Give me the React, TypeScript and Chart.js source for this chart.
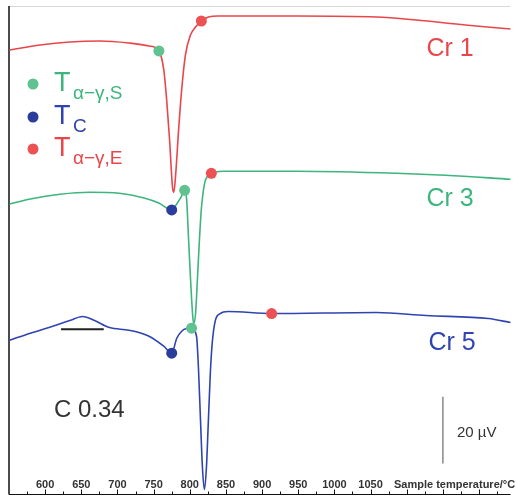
import React, { useEffect, useRef } from "react";
import { Chart, registerables } from "chart.js";

Chart.register(...registerables);

const FONT = "'Liberation Sans', Arial, sans-serif";

// Temperatures (°C) and DTA signal (µV, with vertical offsets per curve)
const cr1T = [550.8, 593, 634, 675, 716, 744, 757.3, 764, 768, 772, 776.4, 778, 780.5, 784.6, 788.8, 794, 801, 808, 816, 825.7, 839, 949, 1058, 1113, 1181, 1244];
const cr1S = [133.4, 134.9, 135.8, 136.1, 135.5, 134.6, 133.1, 127.5, 118.5, 106.6, 91.6, 90.7, 96.1, 109.6, 121.5, 131.9, 137.9, 140.3, 142.1, 143.3, 143.6, 143.6, 143.3, 142.4, 140.9, 139.7];

const cr3T = [550.8, 579.5, 620.5, 661.5, 702.6, 736.8, 757, 775, 782, 788.8, 792.9, 795.6, 798.3, 801, 803.8, 805.2, 808, 810.6, 813.4, 816, 820.2, 824.3, 829.8, 846, 948.8, 1085.6, 1154, 1244];
const cr3S = [87.2, 88.7, 90.1, 90.7, 90.4, 89.0, 87.5, 85.4, 87.2, 89.6, 91.3, 88.7, 76.7, 64.8, 54.3, 51.3, 54.3, 64.8, 76.7, 85.7, 93.1, 95.5, 96.4, 97.0, 97.0, 96.4, 95.8, 94.6];

const cr5T = [550.8, 579.5, 613.7, 634, 652, 668.4, 689, 716, 743.6, 764, 775, 782, 788.8, 795.6, 802.4, 809.3, 812, 814.7, 817.5, 820.2, 823, 825.7, 828.4, 831, 835.3, 842, 853, 913.2, 1058, 1126.6, 1212.8, 1244];
const cr5S = [46.3, 48.4, 50.7, 52.2, 53.4, 52.2, 50.1, 49.3, 47.5, 44.5, 42.4, 46.9, 49.0, 49.8, 49.9, 47.5, 37.9, 23.0, 8.1, 1.5, 8.1, 22.1, 36.4, 45.4, 52.2, 54.3, 54.9, 54.3, 54.6, 53.7, 52.8, 51.6];

// Characteristic points
const startT = [757.3, 792.9, 802.4];
const startS = [133.1, 91.3, 49.9];
const curieT = [775, 775];
const curieS = [85.4, 42.4];
const endT = [816, 829.8, 913.2];
const endS = [142.1, 96.4, 54.3];

// Baseline marker under the Cr 5 bump, and the 20 µV scale bar
const barT = [622, 681];
const barS = [49.6, 49.6];
const scaleBarT = [1150, 1150];
const scaleBarS = [9.3, 29.3];

const tickValues = [600, 650, 700, 750, 800, 850, 900, 950, 1000, 1050];
const curveLabels = ["Cr 1", "Cr 3", "Cr 5"];

const RED = "#e8464a";
const GREEN = "#3db57f";
const BLUE = "#2f44b0";
const M_RED = "#ec5254";
const M_GREEN = "#5fc28f";
const M_BLUE = "#2a3d9c";

const zip = (xs: number[], ys: number[]) => xs.map((x, i) => ({ x, y: ys[i] }));

const decor = {
  id: "decor",
  beforeDatasetsDraw(chart: any) {
    const { ctx, chartArea } = chart;
    const xs = chart.scales.x;
    ctx.save();
    // top border
    ctx.strokeStyle = "#d8d8d8";
    ctx.lineWidth = 1;
    ctx.beginPath();
    ctx.moveTo(chartArea.left, chartArea.top + 0.5);
    ctx.lineTo(chartArea.right, chartArea.top + 0.5);
    ctx.stroke();
    // left axis
    ctx.strokeStyle = "#111";
    ctx.lineWidth = 1.5;
    ctx.beginPath();
    ctx.moveTo(chartArea.left, chartArea.top);
    ctx.lineTo(chartArea.left, chartArea.bottom);
    ctx.stroke();
    // bottom axis
    ctx.lineWidth = 1.2;
    ctx.beginPath();
    ctx.moveTo(chartArea.left, chartArea.bottom);
    ctx.lineTo(chartArea.right, chartArea.bottom);
    ctx.stroke();
    // ticks
    ctx.lineWidth = 1;
    for (let v = 575; v <= 1240; v += 25) {
      const px = Math.round(xs.getPixelForValue(v)) + 0.5;
      const len = v % 50 === 0 ? 5 : 3;
      ctx.beginPath();
      ctx.moveTo(px, chartArea.bottom);
      ctx.lineTo(px, chartArea.bottom - len);
      ctx.stroke();
    }
    // tick labels
    ctx.fillStyle = "#333";
    ctx.font = `bold 11px ${FONT}`;
    ctx.textAlign = "center";
    ctx.textBaseline = "middle";
    tickValues.forEach((v) => {
      ctx.fillText(String(v), xs.getPixelForValue(v), chartArea.bottom - 10);
    });
    ctx.textAlign = "left";
    ctx.fillText("Sample temperature/°C", 394, chartArea.bottom - 10);
    ctx.restore();
  },
  afterDatasetsDraw(chart: any) {
    const { ctx } = chart;
    ctx.save();
    ctx.textBaseline = "middle";
    ctx.textAlign = "center";
    ctx.font = `25px ${FONT}`;
    ctx.fillStyle = RED;
    ctx.fillText(curveLabels[0], 450, 49);
    ctx.fillStyle = GREEN;
    ctx.fillText(curveLabels[1], 450, 199);
    ctx.fillStyle = BLUE;
    ctx.fillText(curveLabels[2], 452, 343);

    ctx.textAlign = "left";
    ctx.fillStyle = "#333";
    ctx.font = `24px ${FONT}`;
    ctx.fillText("C 0.34", 54, 410);
    ctx.font = `15px ${FONT}`;
    ctx.fillText("20 µV", 457, 433);

    // legend
    const items = [
      { c: M_GREEN, t: GREEN, sub: "α−γ,S", y: 84 },
      { c: M_BLUE, t: BLUE, sub: "C", y: 117 },
      { c: M_RED, t: RED, sub: "α−γ,E", y: 149 },
    ];
    ctx.textBaseline = "alphabetic";
    items.forEach((it) => {
      ctx.fillStyle = it.c;
      ctx.beginPath();
      ctx.arc(33, it.y, 5.5, 0, Math.PI * 2);
      ctx.fill();
      ctx.fillStyle = it.t;
      ctx.font = `27px ${FONT}`;
      ctx.fillText("T", 54, it.y + 7);
      ctx.font = `19px ${FONT}`;
      ctx.fillText(it.sub, 73, it.y + 15);
    });
    ctx.restore();
  },
};

export default function App() {
  const ref = useRef<HTMLCanvasElement | null>(null);
  useEffect(() => {
    if (!ref.current) return;
    const lineDs = (label: string, xs: number[], ys: number[], color: string) => ({
      label,
      data: zip(xs, ys),
      borderColor: color,
      borderWidth: 1.6,
      pointRadius: 0,
      fill: false,
      cubicInterpolationMode: "monotone" as const,
      order: 2,
    });
    const markDs = (label: string, xs: number[], ys: number[], color: string) => ({
      label,
      data: zip(xs, ys),
      showLine: false,
      pointRadius: 5.5,
      pointBackgroundColor: color,
      pointBorderWidth: 0,
      borderColor: color,
      order: 0,
    });
    const chart = new Chart(ref.current, {
      type: "line",
      data: {
        datasets: [
          markDs("T α−γ,S", startT, startS, M_GREEN),
          markDs("T C", curieT, curieS, M_BLUE),
          markDs("T α−γ,E", endT, endS, M_RED),
          lineDs("Cr 1", cr1T, cr1S, RED),
          lineDs("Cr 3", cr3T, cr3S, GREEN),
          lineDs("Cr 5", cr5T, cr5S, BLUE),
          {
            label: "bar",
            data: zip(barT, barS),
            borderColor: "#222",
            borderWidth: 2,
            pointRadius: 0,
            order: 1,
          },
          {
            label: "20 µV",
            data: zip(scaleBarT, scaleBarS),
            borderColor: "#888",
            borderWidth: 1.5,
            pointRadius: 0,
            order: 1,
          },
        ] as any,
      },
      options: {
        responsive: false,
        animation: false,
        events: [],
        layout: { padding: { left: 9, right: 0, top: 6, bottom: 3 } },
        plugins: { legend: { display: false }, tooltip: { enabled: false } },
        scales: {
          x: { type: "linear", min: 550, max: 1243.5, display: false },
          y: { type: "linear", min: 0, max: 146.6, display: false },
        },
      },
      plugins: [decor],
    });
    return () => chart.destroy();
  }, []);
  return (
    <div style={{ position: "absolute", left: 0, top: 0, width: 516, height: 500, background: "#fff" }}>
      <canvas ref={ref} width={516} height={500} />
    </div>
  );
}
